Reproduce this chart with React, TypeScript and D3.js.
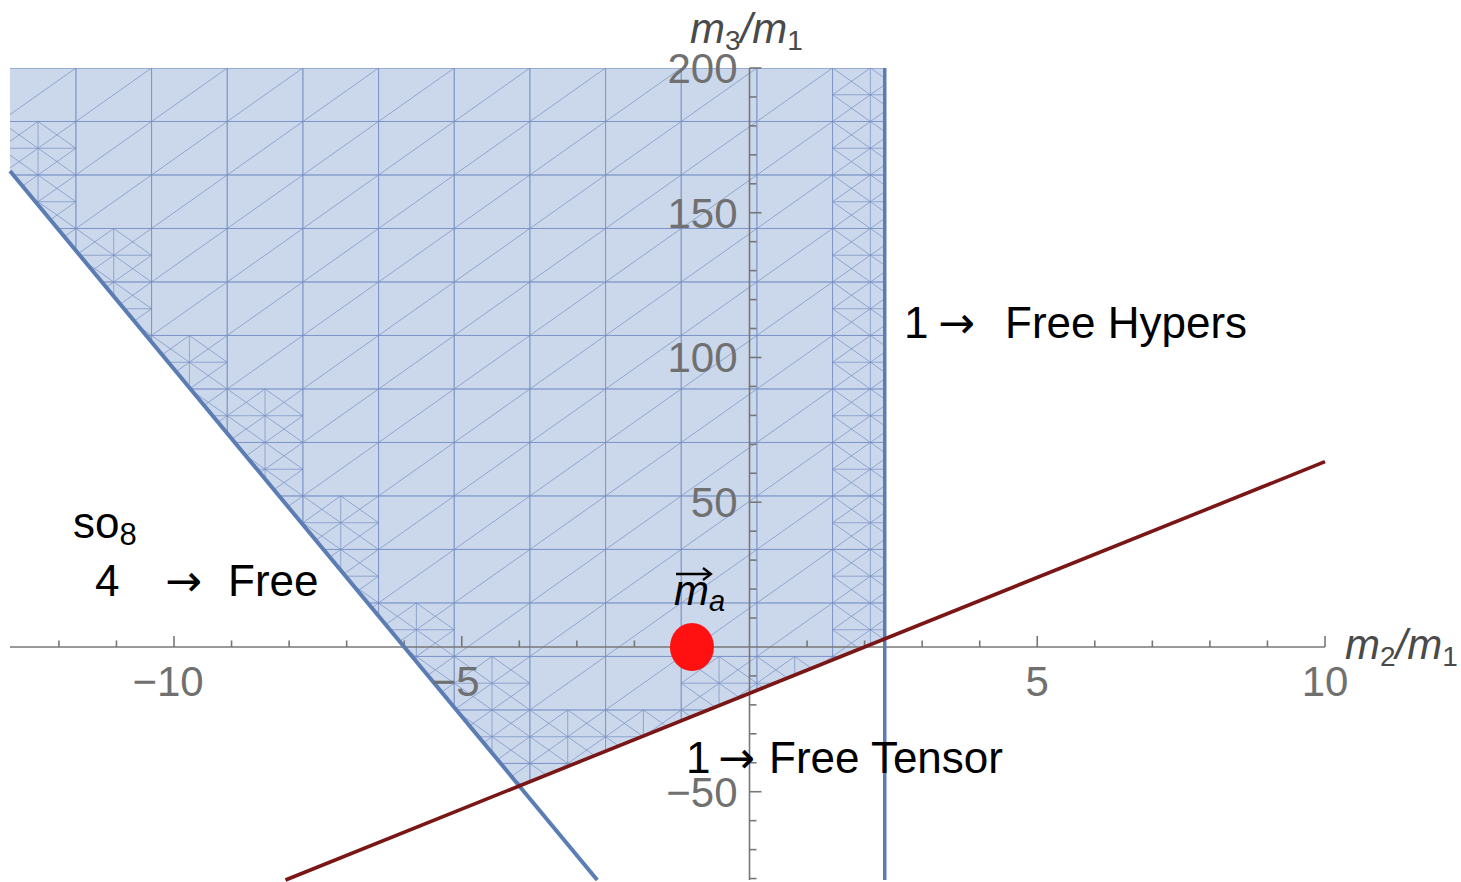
import React from "react";
import * as d3 from "d3";

// Plot window in data units
const X_DOMAIN = [-12.85, 10];
const Y_DOMAIN = [-80.5, 200];

// Axis ticks
const X_MAJOR = [-10, -5, 5, 10];
const X_MINOR = d3.range(-12, 11, 1);
const Y_MAJOR = [-50, 50, 100, 150, 200];
const Y_MINOR = d3.range(-80, 201, 10);

// Boundaries of the allowed region: m3 = slope * m2 + intercept
const diagSlope = -24;
const diagIntercept = -144;
const redSlope = 8;
const redIntercept = -16;
const verticalX = 2.35;

// Marked point m_a
const pointMA = [-1, 0];

// Sampling mesh of the region plot (data units)
const MESH_X0 = -11.705;
const MESH_DX = 1.3148;
const MESH_Y0 = 200;
const MESH_DY = 18.48;

const W = 1461;
const H = 882;

const x = d3.scaleLinear().domain(X_DOMAIN).range([10, 1325]);
const y = d3.scaleLinear().domain(Y_DOMAIN).range([880, 68]);

const diag = (v: number) => diagSlope * v + diagIntercept;
const red = (v: number) => redSlope * v + redIntercept;

const inside = (px: number, py: number) =>
  py >= diag(px) - 1e-9 && py >= red(px) - 1e-9 && px <= verticalX + 1e-9;

// Region polygon corners
const xCross = (redIntercept - diagIntercept) / (diagSlope - redSlope);
const xDiagTop = (Y_DOMAIN[1] - diagIntercept) / diagSlope;
const regionPts: [number, number][] = [
  [X_DOMAIN[0], Y_DOMAIN[1]],
  [verticalX, Y_DOMAIN[1]],
  [verticalX, red(verticalX)],
  [xCross, red(xCross)],
  [Math.max(X_DOMAIN[0], xDiagTop), diag(Math.max(X_DOMAIN[0], xDiagTop))],
];
if (xDiagTop < X_DOMAIN[0]) regionPts.push([X_DOMAIN[0], diag(X_DOMAIN[0])]);

type Seg = [number, number, number, number];

function buildMesh(): Seg[] {
  const segs: Seg[] = [];
  const nx = 20;
  const ny = 17;
  const cellState = (i: number, j: number) => {
    const x0 = MESH_X0 + i * MESH_DX;
    const y1 = MESH_Y0 - j * MESH_DY;
    let ins = 0;
    let tot = 0;
    for (let a = 0; a <= 4; a++)
      for (let b = 0; b <= 4; b++) {
        tot++;
        if (inside(x0 + (a / 4) * MESH_DX, y1 - (b / 4) * MESH_DY)) ins++;
      }
    return ins === 0 ? 0 : ins === tot ? 2 : 1;
  };

  for (let i = -2; i < nx; i++) {
    for (let j = -1; j < ny; j++) {
      const s = cellState(i, j);
      if (s === 0) continue;
      const x0 = MESH_X0 + i * MESH_DX;
      const x1 = x0 + MESH_DX;
      const y1 = MESH_Y0 - j * MESH_DY;
      const y0 = y1 - MESH_DY;
      // cell frame and main diagonal
      segs.push([x0, y1, x1, y1], [x0, y0, x1, y0], [x0, y0, x0, y1], [x1, y0, x1, y1]);
      segs.push([x0, y0, x1, y1]);
      if (s === 1) {
        // refined cell along a boundary
        const xm = (x0 + x1) / 2;
        const ym = (y0 + y1) / 2;
        segs.push([xm, y0, xm, y1], [x0, ym, x1, ym]);
        segs.push([x0, y1, x1, y0]);
        segs.push([x0, ym, xm, y1], [xm, y0, x1, ym]);
        segs.push([x0, ym, xm, y0], [xm, y1, x1, ym]);
      }
    }
  }
  return segs;
}

const meshSegs = buildMesh();

export default function App() {
  const polyPath = d3.line()(regionPts.map((p) => [x(p[0]), y(p[1])] as [number, number])) + "Z";

  const axisColor = "#777777";
  const tickText = "#707070";
  const font = "'Liberation Sans', Arial, sans-serif";
  const arrowFont = "'DejaVu Sans', sans-serif";

  const x0px = x(0);
  const y0px = y(0);

  const diagStartX = X_DOMAIN[0];
  const diagEndX = (Y_DOMAIN[0] - diagIntercept) / diagSlope;
  const redStartX = (Y_DOMAIN[0] - redIntercept) / redSlope;
  const redEndX = X_DOMAIN[1];

  const mx = x(pointMA[0]);
  const my = y(pointMA[1]);

  return (
    <svg
      width={W}
      height={H}
      style={{ position: "absolute", left: 0, top: 0, background: "#ffffff" }}
      fontFamily={font}
    >
      <defs>
        <clipPath id="regionClip">
          <path d={polyPath} />
        </clipPath>
      </defs>

      {/* allowed region */}
      <path d={polyPath} fill="#cbd7ea" stroke="none" />
      <g clipPath="url(#regionClip)" stroke="#7690c4" strokeOpacity={0.7} strokeWidth={1} fill="none">
        {meshSegs.map((s, k) => (
          <line key={k} x1={x(s[0])} y1={y(s[1])} x2={x(s[2])} y2={y(s[3])} />
        ))}
      </g>

      {/* axes */}
      <g stroke={axisColor} strokeWidth={1.6}>
        <line x1={x(X_DOMAIN[0])} x2={x(X_DOMAIN[1])} y1={y0px} y2={y0px} />
        <line x1={x0px} x2={x0px} y1={y(Y_DOMAIN[0])} y2={y(Y_DOMAIN[1])} />
        {X_MINOR.filter((v) => v !== 0).map((v) => (
          <line key={"xm" + v} x1={x(v)} x2={x(v)} y1={y0px} y2={y0px - (v % 5 === 0 ? 11 : 6.5)} />
        ))}
        {Y_MINOR.filter((v) => v !== 0).map((v) => (
          <line key={"ym" + v} x1={x0px} x2={x0px + (v % 50 === 0 ? 12 : 7)} y1={y(v)} y2={y(v)} />
        ))}
      </g>

      {/* boundary lines */}
      <line x1={x(verticalX)} x2={x(verticalX)} y1={y(Y_DOMAIN[1])} y2={y(Y_DOMAIN[0])} stroke="#5b7db3" strokeWidth={3.5} />
      <line x1={x(diagStartX)} y1={y(diag(diagStartX))} x2={x(diagEndX)} y2={y(diag(diagEndX))} stroke="#5b7db3" strokeWidth={4} />
      <line x1={x(redStartX)} y1={y(red(redStartX))} x2={x(redEndX)} y2={y(red(redEndX))} stroke="#7a1616" strokeWidth={3.6} />

      {/* tick labels */}
      <g fill={tickText} fontSize={42}>
        {X_MAJOR.map((v) => (
          <text key={"xl" + v} x={x(v) - (v < 0 ? 6 : 0)} y={y0px + 49} textAnchor="middle">
            {v < 0 ? "\u2212" + Math.abs(v) : String(v)}
          </text>
        ))}
        {Y_MAJOR.map((v) => (
          <text key={"yl" + v} x={x0px - 12} y={y(v) + 15} textAnchor="end">
            {v < 0 ? "\u2212" + Math.abs(v) : String(v)}
          </text>
        ))}
      </g>

      {/* axis titles */}
      <text x={690} y={43} fontSize={42} fill="#4a4a4a">
        <tspan fontStyle="italic">m</tspan>
        <tspan fontSize={28} dy={7}>3</tspan>
        <tspan dy={-7} fontStyle="italic">/m</tspan>
        <tspan fontSize={28} dy={7}>1</tspan>
      </text>
      <text x={1345} y={659} fontSize={42} fill="#4a4a4a">
        <tspan fontStyle="italic">m</tspan>
        <tspan fontSize={28} dy={7}>2</tspan>
        <tspan dy={-7} fontStyle="italic">/m</tspan>
        <tspan fontSize={28} dy={7}>1</tspan>
      </text>

      {/* point m_a */}
      <ellipse cx={mx} cy={my} rx={22} ry={24} fill="#ff1111" />
      <text x={674} y={605} fontSize={42} fill="#000">
        <tspan fontStyle="italic">m</tspan>
        <tspan fontSize={29} dy={6} fontStyle="italic">a</tspan>
      </text>
      <g stroke="#000" strokeWidth={2.6} fill="none">
        <line x1={676} x2={710} y1={574} y2={574} />
        <polyline points="703,568 711,574 703,580" strokeWidth={2.2} />
      </g>

      {/* annotations */}
      <g fill="#000" fontSize={44}>
        <text x={904} y={338}>1</text>
        <text x={938} y={338} fontFamily={arrowFont} fontSize={44}>→</text>
        <text x={1005} y={338}>Free Hypers</text>

        <text x={73} y={538}>
          so<tspan fontSize={31} dy={7}>8</tspan>
        </text>
        <text x={95} y={596}>4</text>
        <text x={165} y={596} fontFamily={arrowFont} fontSize={44}>→</text>
        <text x={228} y={596}>Free</text>

        <text x={686} y={773}>1</text>
        <text x={718} y={773} fontFamily={arrowFont} fontSize={44}>→</text>
        <text x={769} y={773}>Free Tensor</text>
      </g>
    </svg>
  );
}
